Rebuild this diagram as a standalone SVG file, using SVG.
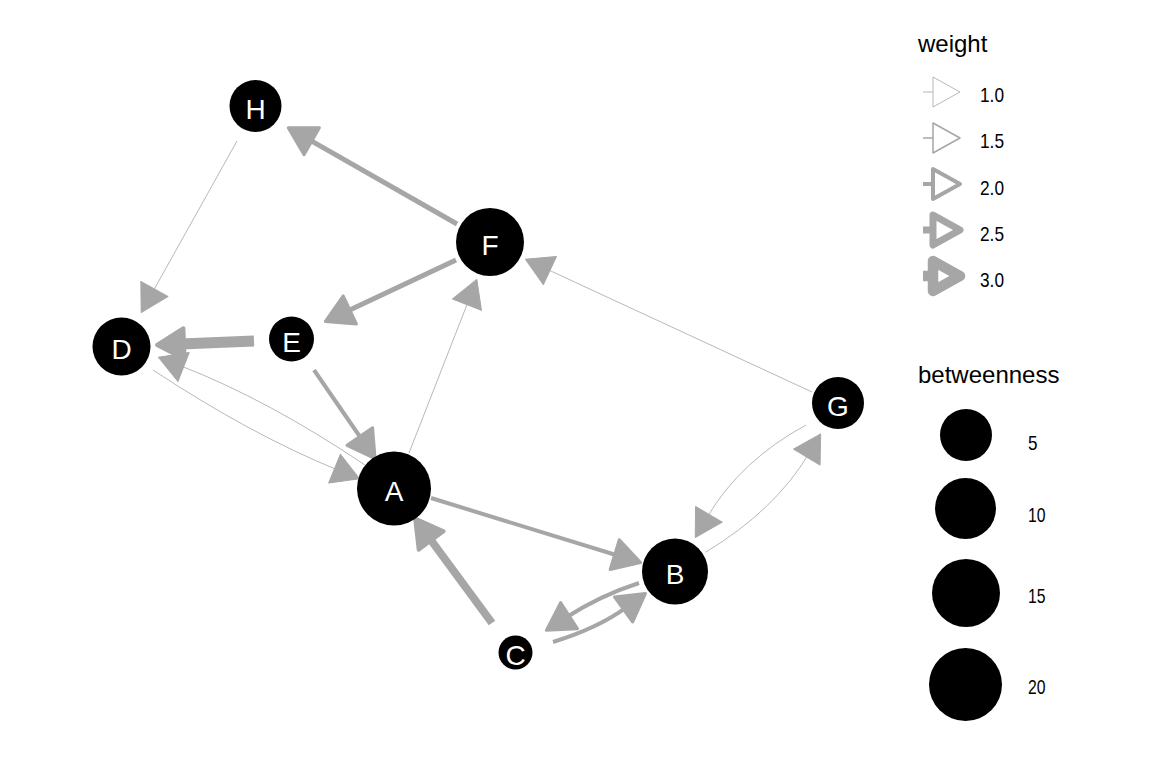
<svg xmlns="http://www.w3.org/2000/svg" width="1152" height="768" viewBox="0 0 1152 768">
<style>
  .edge { fill: none; stroke: #A6A6A6; stroke-linecap: butt; stroke-linejoin: round; }
  .thin { stroke-width: 0.8; marker-end: url(#arr1); }
  .w4 { stroke-width: 4; marker-end: url(#arr3); }
  .w5 { stroke-width: 5; marker-end: url(#arr3); }
  .w8 { stroke-width: 8; marker-end: url(#arr4); }
  .w11 { stroke-width: 11; marker-end: url(#arr4); }
  .node circle { fill: #000000; }
  .node text { fill: #FFFFFF; font-family: "Liberation Sans", Arial, sans-serif; font-size: 28px; text-anchor: middle; }
  .title { fill: #000000; font-family: "Liberation Sans", Arial, sans-serif; font-size: 24px; }
  .lab { fill: #000000; font-family: "Liberation Sans", Arial, sans-serif; font-size: 21px; }
  .key { fill: #FFFFFF; stroke: #A6A6A6; stroke-linejoin: round; }
  .stub { stroke: #A6A6A6; stroke-linecap: butt; }
  .bkey { fill: #000000; }
</style>
<defs>
  <marker id="arr1" markerUnits="userSpaceOnUse" orient="auto" refX="3" refY="0" markerWidth="40" markerHeight="40" overflow="visible">
    <polygon points="0,-15.5 27,0 0,15.5" fill="#A6A6A6" stroke="#A6A6A6" stroke-width="1" stroke-linejoin="round"/>
  </marker>
  <marker id="arr3" markerUnits="userSpaceOnUse" orient="auto" refX="3" refY="0" markerWidth="40" markerHeight="40" overflow="visible">
    <polygon points="0,-15.5 27,0 0,15.5" fill="#A6A6A6" stroke="#A6A6A6" stroke-width="3" stroke-linejoin="round"/>
  </marker>
  <marker id="arr4" markerUnits="userSpaceOnUse" orient="auto" refX="3" refY="0" markerWidth="40" markerHeight="40" overflow="visible">
    <polygon points="0,-15.5 27,0 0,15.5" fill="#A6A6A6" stroke="#A6A6A6" stroke-width="4" stroke-linejoin="round"/>
  </marker>
</defs>
<rect x="0" y="0" width="1152" height="768" fill="#FFFFFF"/>

<g id="edges">
  <path id="e-F-H" class="edge w5" d="M457,224 L309.1,139.7"/>
  <path id="e-H-D" class="edge thin" d="M237,141 L152.9,291.6"/>
  <path id="e-F-E" class="edge w5" d="M456,260 L347.1,311.2"/>
  <path id="e-E-D" class="edge w11" d="M254,341 L181,343.9"/>
  <path id="e-D-A" class="edge thin" d="M153,370 Q250.9,434.6 337.3,469.8"/>
  <path id="e-A-D" class="edge thin" d="M365,465 Q267.5,399.5 180.8,365.9"/>
  <path id="e-E-A" class="edge w4" d="M314,370 L361.5,439"/>
  <path id="e-A-F" class="edge thin" d="M409,453 L468.1,301.8"/>
  <path id="e-G-F" class="edge thin" d="M812,392 L547.2,269.3"/>
  <path id="e-A-B" class="edge w4" d="M431,498 L617.6,555.5"/>
  <path id="e-C-A" class="edge w8" d="M492,623 L429.4,538"/>
  <path id="e-B-C" class="edge w4" d="M639,583 Q600,595.6 566.5,617.3"/>
  <path id="e-C-B" class="edge w4" d="M553,642 Q597.7,628.3 626,607.7"/>
  <path id="e-G-B" class="edge thin" d="M806,425 Q740.3,460.9 707.4,516.9"/>
  <path id="e-B-G" class="edge thin" d="M706,552 Q774.9,510.2 808.3,454.5"/>
</g>

<g id="node-A" class="node"><circle cx="394" cy="488.5" r="37"/><text x="394" y="501">A</text></g>
<g id="node-B" class="node"><circle cx="675" cy="571.5" r="33"/><text x="675" y="584">B</text></g>
<g id="node-C" class="node"><circle cx="515.5" cy="652.5" r="17"/><text x="515.5" y="665">C</text></g>
<g id="node-D" class="node"><circle cx="121.5" cy="346.5" r="29"/><text x="121.5" y="359">D</text></g>
<g id="node-E" class="node"><circle cx="291.5" cy="339" r="22.5"/><text x="291.5" y="351.5">E</text></g>
<g id="node-F" class="node"><circle cx="490" cy="242" r="34"/><text x="490" y="254.5">F</text></g>
<g id="node-G" class="node"><circle cx="838" cy="403" r="26"/><text x="838" y="415.5">G</text></g>
<g id="node-H" class="node"><circle cx="255.5" cy="106" r="26"/><text x="255.5" y="118.5">H</text></g>

<g id="legend-weight">
  <text class="title" x="918" y="52">weight</text>
  <line class="stub" x1="923" y1="92" x2="933" y2="92" stroke-width="0.8"/>
  <polygon class="key" points="933,77 960,92 933,107" stroke-width="0.8"/>
  <text class="lab" x="980" y="102" textLength="24" lengthAdjust="spacingAndGlyphs">1.0</text>
  <line class="stub" x1="923" y1="138" x2="933" y2="138" stroke-width="1.5"/>
  <polygon class="key" points="933,123 960,138 933,153" stroke-width="1.5"/>
  <text class="lab" x="980" y="148" textLength="24" lengthAdjust="spacingAndGlyphs">1.5</text>
  <line class="stub" x1="923" y1="184" x2="933" y2="184" stroke-width="4"/>
  <polygon class="key" points="933,169 960,184 933,199" stroke-width="4"/>
  <text class="lab" x="980" y="195" textLength="24" lengthAdjust="spacingAndGlyphs">2.0</text>
  <line class="stub" x1="923" y1="230" x2="933" y2="230" stroke-width="7"/>
  <polygon class="key" points="933,215 960,230 933,245" stroke-width="7"/>
  <text class="lab" x="980" y="241" textLength="24" lengthAdjust="spacingAndGlyphs">2.5</text>
  <line class="stub" x1="923" y1="276" x2="933" y2="276" stroke-width="10.5"/>
  <polygon class="key" points="933,261 960,276 933,291" stroke-width="10.5"/>
  <text class="lab" x="980" y="287" textLength="24" lengthAdjust="spacingAndGlyphs">3.0</text>
</g>

<g id="legend-betweenness">
  <text class="title" x="918" y="383">betweenness</text>
  <circle class="bkey" cx="966" cy="435" r="26"/>
  <text class="lab" x="1028" y="450" textLength="9.5" lengthAdjust="spacingAndGlyphs">5</text>
  <circle class="bkey" cx="965.5" cy="508.5" r="30.5"/>
  <text class="lab" x="1028" y="521.5" textLength="17.5" lengthAdjust="spacingAndGlyphs">10</text>
  <circle class="bkey" cx="966" cy="593" r="34"/>
  <text class="lab" x="1028" y="603" textLength="17.5" lengthAdjust="spacingAndGlyphs">15</text>
  <circle class="bkey" cx="965.5" cy="684.5" r="36.5"/>
  <text class="lab" x="1028" y="694" textLength="17.5" lengthAdjust="spacingAndGlyphs">20</text>
</g>
</svg>
